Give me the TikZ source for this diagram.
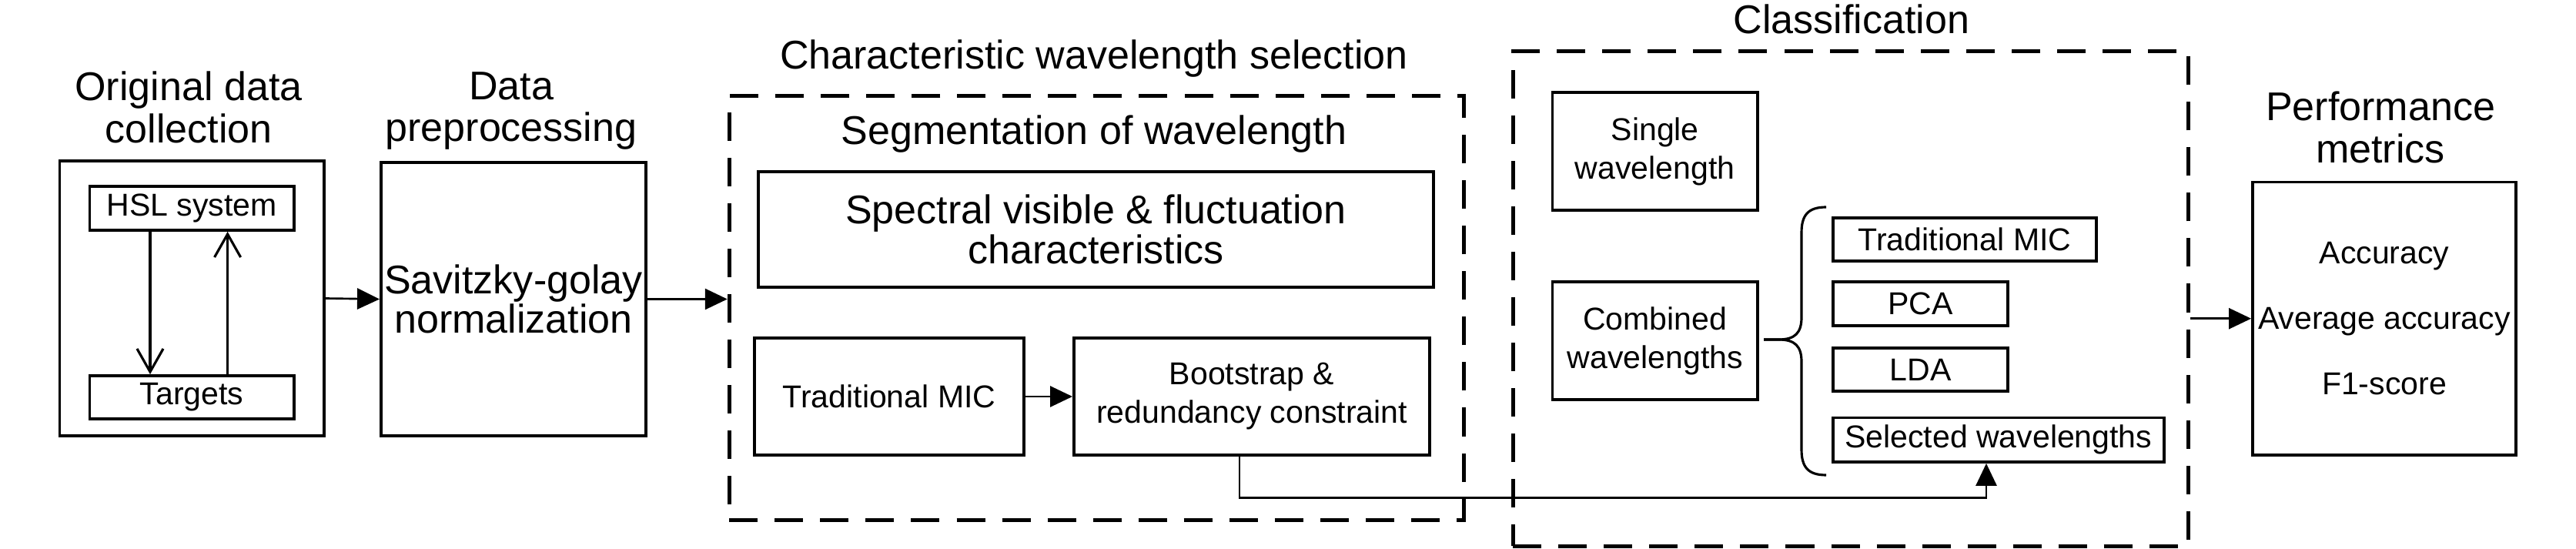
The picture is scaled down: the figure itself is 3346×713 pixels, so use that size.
\documentclass[tikz,border=0pt]{standalone}
\usepackage{fontspec}
\setmainfont{Liberation Sans}
\usetikzlibrary{arrows.meta}
\newcommand\myBig{\fontsize{14.8pt}{14.7pt}\selectfont}
\newcommand\myTitle{\fontsize{14.8pt}{15.5pt}\selectfont}
\newcommand\mySmall{\fontsize{11.67pt}{14.2pt}\selectfont}
\newcommand\myPerf{\fontsize{11.67pt}{24.2pt}\selectfont}
\begin{document}
\begin{tikzpicture}[x=0.01cm,y=-0.01cm,
  box/.style={draw,line width=1.05pt,inner sep=0pt,align=center},
  dbox/.style={draw,line width=1.45pt,dash pattern=on 0.37cm off 0.22cm,inner sep=0pt},
  arr/.style={line width=0.75pt,-{Triangle[length=0.29cm,width=0.27cm]}},
  oarr/.style={line width=0.9pt,-{Straight Barb[length=0.3cm,width=0.34cm]}},
  ttl/.style={font=\myTitle,align=center,inner sep=0pt},
  brc/.style={line width=0.9pt}]
\useasboundingbox (0,0) rectangle (3346,713);

% Original data collection
\node[ttl] (t1) at (245,139.5) {Original data\\collection};
\node[box,minimum width=3.433cm,minimum height=3.57cm] (orig) at (249.2,387.5) {};
\node[box,font=\mySmall,minimum width=2.652cm,minimum height=0.57cm] (hsl) at (249.1,270.5) {HSL system};
\node[box,font=\mySmall,minimum width=2.652cm,minimum height=0.56cm] (tgt) at (249.1,516) {Targets};
\draw[oarr] (hsl.south -| 195,0) -- (tgt.north -| 195,0);
\draw[oarr] (tgt.north -| 295.6,0) -- (hsl.south -| 295.6,0);

% Data preprocessing
\node[ttl] (t2) at (664,144) {Data\\preprocessing};
\node[box,font=\myBig,minimum width=3.44cm,minimum height=3.55cm] (prep) at (667,388.5) {Savitzky-golay\\normalization};

% Characteristic wavelength selection
\node[ttl,anchor=base] (t3) at (1421,90) {Characteristic wavelength selection};
\node[dbox,minimum width=9.534cm,minimum height=5.5cm] (cws) at (1424.3,400) {};
\node[ttl,anchor=base] (t4) at (1421,187.5) {Segmentation of wavelength};
\node[box,font=\myBig,minimum width=8.77cm,minimum height=1.5cm] (spec) at (1423.5,298) {Spectral visible \& fluctuation\\characteristics};
\node[box,font=\mySmall,minimum width=3.5cm,minimum height=1.52cm] (mic) at (1155,515) {Traditional MIC};
\node[box,font=\mySmall,minimum width=4.62cm,minimum height=1.52cm] (boot) at (1626,515) {Bootstrap \&\\redundancy constraint};

% Classification
\node[ttl,anchor=base] (t5) at (2405,44) {Classification};
\node[dbox,minimum width=8.765cm,minimum height=6.42cm] (cls) at (2403.75,388) {};
\node[box,font=\mySmall,minimum width=2.665cm,minimum height=1.53cm] (single) at (2149.75,196.5) {Single\\wavelength};
\node[box,font=\mySmall,minimum width=2.665cm,minimum height=1.53cm] (comb) at (2149.75,442.5) {Combined\\wavelengths};
\node[box,font=\mySmall,minimum width=3.42cm,minimum height=0.56cm] (tmic) at (2552,311) {Traditional MIC};
\node[box,font=\mySmall,minimum width=2.27cm,minimum height=0.57cm] (pca) at (2494.5,394.5) {PCA};
\node[box,font=\mySmall,minimum width=2.27cm,minimum height=0.56cm] (lda) at (2494.5,480) {LDA};
\node[box,font=\mySmall,minimum width=4.295cm,minimum height=0.575cm] (selw) at (2595.75,571.25) {Selected wavelengths};

% brace
\draw[brc] (2372,269) .. controls (2348,269) and (2340,280) .. (2340,302)
  -- (2340,412) .. controls (2340,432) and (2332,441) .. (2310,441) -- (2291,441);
\draw[brc] (2291,441) -- (2310,441) .. controls (2332,441) and (2340,450) .. (2340,470)
  -- (2340,584) .. controls (2340,606) and (2348,617) .. (2372,617);

% Performance metrics
\node[ttl] (t6) at (3092,165.5) {Performance\\metrics};
\node[box,font=\myPerf,minimum width=3.42cm,minimum height=3.545cm] (perf) at (3097,413.75) {Accuracy\\Average accuracy\\F1-score};

% connectors
\draw[arr] (orig.east) -- (prep.west);
\draw[arr] (prep.east) -- (prep.east -| cws.west);
\draw[arr] (mic.east) -- (boot.west);
\draw[arr] (perf.west -| cls.east) -- (perf.west);
\coordinate (c1) at (1610,646.5);
\coordinate (c2) at (2580,646.5);
\draw[arr] (boot.south -| c1) -- (c1) -- (c2) -- (selw.south -| c2);
\end{tikzpicture}
\end{document}
